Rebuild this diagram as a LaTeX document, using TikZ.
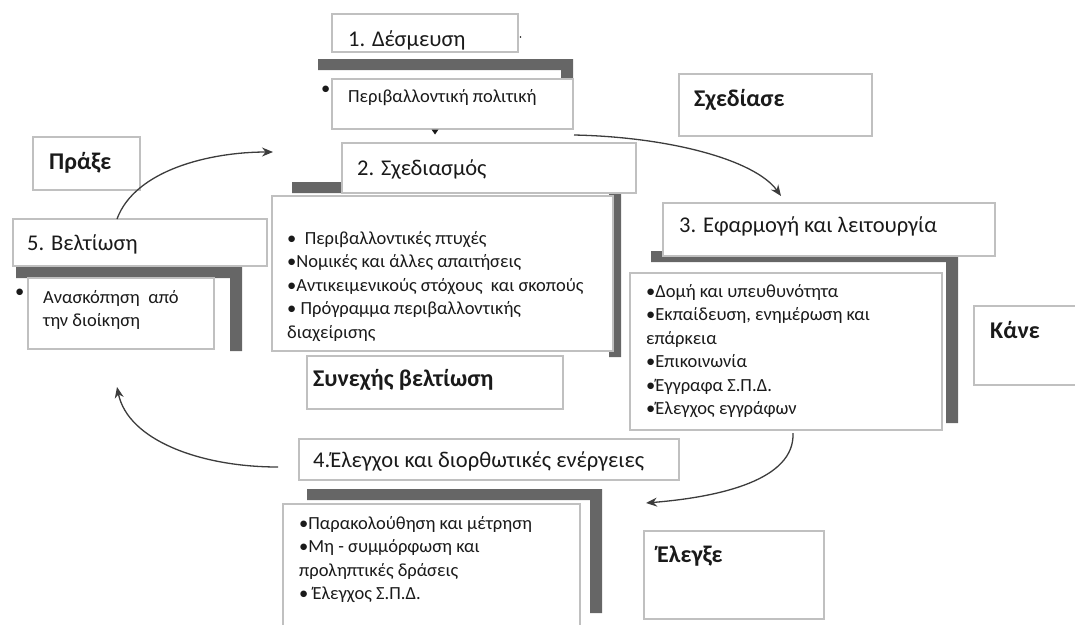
\documentclass[tikz,border=0pt]{standalone}
\usepackage{fontspec}
\setmainfont{Carlito}
\usetikzlibrary{arrows.meta}
\definecolor{frame}{HTML}{C0C0C0}
\definecolor{band}{HTML}{666666}
\definecolor{ink}{HTML}{1A1A1A}
\definecolor{curve}{HTML}{3C3C3C}
\tikzset{
  panel/.style={draw=frame, line width=1.2pt, fill=white, rectangle, inner sep=0pt},
  title/.style={anchor=base west, inner sep=0pt, text=ink, font=\fontsize{22.5}{26}\selectfont},
  label/.style={anchor=base west, inner sep=0pt, text=ink, font=\bfseries\fontsize{24}{28}\selectfont},
  items/.style={anchor=north west, inner sep=0pt, align=left, text=ink, font=\fontsize{18.5}{23.5}\selectfont},
  flow/.style={draw=curve, line width=1.3pt, -{Stealth[length=11pt,width=9pt]}},
}
% box: name, centre x, centre y, width, height
\newcommand\panelbox[5]{\node[panel, minimum width=#4pt, minimum height=#5pt] (#1) at (#2,#3) {};}
% thick L-shaped band behind a box: left, top, right, bottom of the vertical leg
\newcommand\band[4]{\fill[band] (#1,#2) rectangle (#3,#2+11) (#3-12,#2) rectangle (#3,#4);}
\begin{document}
\begin{tikzpicture}[x=1pt, y=-1pt]
\useasboundingbox (0,0) rectangle (1075,624);
\clip (0,0) rectangle (1075,624);

% bands
\band{318}{59}{573}{129}
\band{292}{182}{621}{357}
\band{16}{267}{242}{351}
\band{651}{251}{958}{423}
\band{307}{489}{602}{613}

% step 1
\panelbox{b1}{425}{33}{186}{38}
\node[title] (t1) at (348,46) {1. Δέσμευση};
\fill[ink] (520.5,37) circle (0.9);
\panelbox{c1}{452.5}{104}{241}{50}
\node[items, anchor=base west] (t1a) at (348,102) {Περιβαλλοντική πολιτική};
\node[items, anchor=base west] (u1) at (321,94) {•};
\fill[ink] (431.5,129.5) -- (438.5,129.5) -- (435,134.5) -- cycle;

% step 2
\panelbox{b2}{489}{168}{294}{50}
\node[title] (t2) at (357,175) {2. Σχεδιασμός};
\panelbox{c2}{442.5}{273.5}{341}{155}
\node[items] (t2a) at (287,244-16.45) {\strut•\ \ Περιβαλλοντικές πτυχές\\
  •Νομικές και άλλες απαιτήσεις\\
  •Αντικειμενικούς στόχους\ \ και σκοπούς\\
  • Πρόγραμμα περιβαλλοντικής\\
  διαχείρισης};
\panelbox{sb}{435}{382.5}{256}{53}
\node[label] (tsb) at (313,386) {Συνεχής βελτίωση};

% step 5
\panelbox{pr}{86.5}{163.5}{107}{53}
\node[label] (tpr) at (49,169) {Πράξε};
\panelbox{b5}{140}{242.5}{254}{47}
\node[title] (t5) at (27,250) {5. Βελτίωση};
\panelbox{c5}{121}{313.5}{186}{71}
\node[items] (t5a) at (43,303-16.45) {\strut Ανασκόπηση\ \ από\\ την διοίκηση};
\node[items, anchor=base west] (u5) at (15,297) {•};

% step 3
\panelbox{sx}{775.5}{105}{193}{62}
\node[label] (tsx) at (694,106) {Σχεδίασε};
\panelbox{b3}{829}{229.5}{332}{53}
\node[title] (t3) at (679,232) {3. Εφαρμογή και λειτουργία};
\panelbox{c3}{786}{351.5}{312}{157}
\node[items] (t3a) at (646,297-16.45) {\strut•Δομή και υπευθυνότητα\\
  •Εκπαίδευση, ενημέρωση και\\
  επάρκεια\\
  •Επικοινωνία\\
  •Έγγραφα Σ.Π.Δ.\\
  •Έλεγχος εγγράφων};
\panelbox{kn}{1034.5}{345.5}{121}{79}
\node[label] (tkn) at (990,338) {Κάνε};

% step 4
\panelbox{b4}{489}{459.5}{380}{41}
\node[title] (t4) at (313,467) {4.Έλεγχοι και διορθωτικές ενέργειες};
\panelbox{c4}{431.5}{577}{297}{146}
\node[items] (t4a) at (299,529-16.45) {\strut•Παρακολούθηση και μέτρηση\\
  •Μη - συμμόρφωση και\\
  προληπτικές δράσεις\\
  • Έλεγχος Σ.Π.Δ.};
\panelbox{el}{734}{575}{180}{88}
\node[label] (tel) at (657,562) {Έλεγξε};

% cycle arrows
\coordinate (p1) at (574,135);
\coordinate (q1) at (781,196);
\coordinate (p2) at (793,433);
\coordinate (q2) at (646,503);
\coordinate (p3) at (278,467);
\coordinate (q3) at (117,387);
\coordinate (p4) at (117,219);
\coordinate (q4) at (273,152);
\draw[flow] (p1) .. controls (670,137) and (755,160) .. (q1);
\draw[flow] (p2) .. controls (795,480) and (720,497) .. (q2);
\draw[flow] (p3) .. controls (200,467) and (128,440) .. (q3);
\draw[flow] (p4) .. controls (135,170) and (210,152) .. (q4);
\end{tikzpicture}
\end{document}
